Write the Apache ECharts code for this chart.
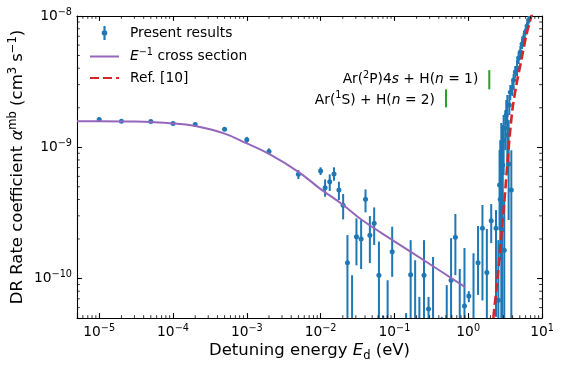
<!DOCTYPE html>
<html>
<head>
<meta charset="utf-8">
<script src="https://cdn.jsdelivr.net/npm/echarts@6/dist/echarts.min.js"></script>
<style>
html, body { margin: 0; padding: 0; background: #fff; }
#main { width: 565px; height: 372px; }
</style>
</head>
<body>
<div id="main"></div>
<script>
// measured rate coefficient: [E (eV), alpha, lower, upper]  (cm^3 s^-1)
var presentResults = [
  [1e-5, 1.63e-9, 1.59e-9, 1.67e-9],
  [2e-5, 1.58e-9, 1.54e-9, 1.62e-9],
  [5e-5, 1.57e-9, 1.53e-9, 1.61e-9],
  [1e-4, 1.52e-9, 1.48e-9, 1.56e-9],
  [2e-4, 1.49e-9, 1.45e-9, 1.53e-9],
  [5e-4, 1.37e-9, 1.33e-9, 1.41e-9],
  [1e-3, 1.14e-9, 1.08e-9, 1.20e-9],
  [2e-3, 9.3e-10, 8.8e-10, 9.8e-10],
  [5e-3, 6.23e-10, 5.73e-10, 6.7e-10],
  [1.0e-2, 6.59e-10, 6.14e-10, 7.03e-10],
  [1.15e-2, 4.91e-10, 4.2e-10, 5.69e-10],
  [1.33e-2, 5.46e-10, 4.65e-10, 6.21e-10],
  [1.52e-2, 6.25e-10, 5.56e-10, 7.03e-10],
  [1.77e-2, 4.72e-10, 3.96e-10, 5.46e-10],
  [2.02e-2, 3.62e-10, 2.82e-10, 4.4e-10],
  [2.31e-2, 1.32e-10, 4e-11, 2.14e-10],
  [2.67e-2, 4e-11, 1e-12, 1.06e-10],
  [3.06e-2, 2.08e-10, 1.26e-10, 2.87e-10],
  [3.54e-2, 2.0e-10, 1.18e-10, 2.83e-10],
  [4.06e-2, 4.01e-10, 3.19e-10, 4.77e-10],
  [4.65e-2, 2.14e-10, 1.31e-10, 2.99e-10],
  [5.32e-2, 2.63e-10, 1.8e-10, 3.48e-10],
  [6.17e-2, 1.06e-10, 2e-11, 1.91e-10],
  [7.05e-2, 2.5e-11, 1e-12, 5.2e-11],
  [8.09e-2, 4.5e-11, 1e-12, 9.7e-11],
  [9.33e-2, 1.6e-10, 1.03e-10, 2.48e-10],
  [0.144, 2.5e-11, 1e-12, 5.45e-11],
  [0.166, 1.07e-10, 2e-11, 1.96e-10],
  [0.191, 4e-11, 1e-12, 1.38e-10],
  [0.218, 3e-11, 1e-12, 7.24e-11],
  [0.252, 1.06e-10, 2e-11, 1.96e-10],
  [0.29, 5.85e-11, 4.4e-11, 7.24e-11],
  [0.334, 4e-11, 1e-12, 1.46e-10],
  [0.438, 2.5e-11, 1e-12, 5.1e-11],
  [0.512, 3.5e-11, 1e-12, 8.9e-11],
  [0.586, 9.7e-11, 2e-11, 2.03e-10],
  [0.67, 2.06e-10, 1.06e-10, 3.1e-10],
  [0.768, 4e-11, 1e-12, 1.18e-10],
  [0.89, 6.17e-11, 1e-12, 1.71e-10],
  [1.02, 7.34e-11, 6.6e-11, 8.0e-11],
  [1.18, 4e-11, 1e-12, 1.56e-10],
  [1.36, 1.32e-10, 7.5e-11, 2.51e-10],
  [1.56, 2.41e-10, 6.8e-11, 3.63e-10],
  [1.79, 1.11e-10, 1e-12, 2.38e-10],
  [2.05, 2.75e-10, 1.86e-10, 3.69e-10],
  [2.38, 2.41e-10, 5.1e-11, 3.32e-10],
  [2.56, 6.84e-11, 1e-11, 1.96e-10],
  [2.66, 5.15e-10, 2.34e-10, 9.5e-10],
  [2.72, 4.01e-10, 1.38e-10, 1.13e-9],
  [2.81, 2.88e-10, 1e-11, 1.53e-9],
  [2.87, 2.34e-10, 1e-11, 7.98e-10],
  [2.94, 7.31e-10, 3.32e-10, 1.48e-9],
  [3.02, 1.13e-9, 6.14e-10, 1.76e-9],
  [3.08, 1.64e-10, 1e-11, 3.96e-10],
  [3.18, 1.40e-9, 9.5e-10, 1.92e-9],
  [3.28, 1.76e-9, 1.48e-9, 2.29e-9],
  [3.39, 1.24e-9, 6.7e-10, 2.50e-9],
  [3.53, 7.45e-10, 2.79e-10, 1.61e-9],
  [3.61, 2.10e-9, 1.76e-9, 2.50e-9],
  [3.72, 2.63e-9, 2.29e-9, 2.98e-9],
  [3.84, 4.72e-10, 1e-11, 9.5e-10],
  [3.96, 2.83e-9, 2.46e-9, 3.25e-9],
  [4.12, 3.25e-9, 2.88e-9, 3.61e-9],
  [4.35, 3.74e-9, 3.37e-9, 4.16e-9],
  [4.59, 4.02e-9, 3.49e-9, 4.62e-9],
  [4.82, 4.79e-9, 4.31e-9, 5.32e-9],
  [5.09, 5.32e-9, 4.79e-9, 5.9e-9],
  [5.37, 6.12e-9, 5.6e-9, 6.68e-9],
  [5.64, 6.8e-9, 6.23e-9, 7.4e-9],
  [5.95, 7.55e-9, 7.05e-9, 8.1e-9],
  [6.28, 8.4e-9, 7.8e-9, 9.0e-9],
  [6.59, 9.3e-9, 8.7e-9, 1.0e-8],
  [6.95, 1.02e-8, 9.5e-9, 1.1e-8]
];

// E^-1 cross section curve
var crossSection = [
  [5e-6, 1.58e-9], [1e-5, 1.58e-9], [3e-5, 1.57e-9], [1e-4, 1.52e-9],
  [2e-4, 1.45e-9], [5e-4, 1.27e-9], [1e-3, 1.07e-9], [2e-3, 8.9e-10],
  [5e-3, 6.5e-10], [1e-2, 4.8e-10], [2e-2, 3.65e-10], [3.6e-2, 2.8e-10],
  [0.1, 1.92e-10], [0.3, 1.29e-10], [0.91, 8.6e-11]
];

// Ref. [10]
var ref10 = [
  [2.1, 4e-11], [2.19, 5e-11], [2.48, 9.66e-11], [2.85, 2.32e-10],
  [3.18, 4.7e-10], [3.49, 9.16e-10], [3.96, 1.91e-9], [4.49, 2.97e-9],
  [5.25, 4.61e-9], [6.14, 7.16e-9], [7.18, 1.0e-8], [7.6, 1.1e-8]
];

// threshold marks
var thresholdLabels = [
  '{n|Ar(}{s|2}{n|P)4}{i|s}{n| + H(}{i|n}{n| = 1)}',
  '{n|Ar(}{s|1}{n|S) + H(}{i|n}{n| = 2)}'
];
var thresholdE = [1.93, 0.50];
var thresholdTop = [3.87e-9, 2.76e-9];
var thresholdBottom = [2.76e-9, 2.01e-9];

var FONT = 'DejaVu Sans';
var X_MIN = 5e-6, X_MAX = 10, Y_MIN = 5e-11, Y_MAX = 1e-8;

function powLabel(v) {
  var e = Math.log10(v);
  var r = Math.round(e);
  if (Math.abs(e - r) > 1e-6) return '';
  return '{b|10}{s|' + (r < 0 ? '\u2212' + (-r) : r) + '}';
}
var tickRich = {
  b: { fontFamily: FONT, fontSize: 13.8, lineHeight: 18, color: '#000' },
  s: { fontFamily: FONT, fontSize: 9.7, lineHeight: 8, verticalAlign: 'top', color: '#000' }
};

// minor tick positions (2..9 per decade)
var minorX = [], minorY = [];
for (var d = -6; d <= 0; d++) {
  for (var m = 2; m <= 9; m++) {
    var v = m * Math.pow(10, d);
    if (v > X_MIN && v < X_MAX) minorX.push([v, 1e-9]);
  }
}
for (var d2 = -11; d2 <= -9; d2++) {
  for (var m2 = 2; m2 <= 9; m2++) {
    var w = m2 * Math.pow(10, d2);
    if (w > Y_MIN && w < Y_MAX) minorY.push([1, w]);
  }
}

function renderErr(params, api) {
  var x = api.value(0);
  var hi = api.coord([x, api.value(3)]);
  var lo = api.coord([x, api.value(2)]);
  var c = api.coord([x, api.value(1)]);
  return {
    type: 'group',
    children: [
      { type: 'line', shape: { x1: hi[0], y1: hi[1], x2: lo[0], y2: lo[1] },
        style: { stroke: '#1f77b4', lineWidth: 2 } },
      { type: 'circle', shape: { cx: c[0], cy: c[1], r: 2.5 }, style: { fill: '#1f77b4' } }
    ]
  };
}

function renderMinorX(params, api) {
  var cs = params.coordSys;
  var p = api.coord([api.value(0), api.value(1)]);
  var yb = cs.y + cs.height, yt = cs.y;
  return {
    type: 'group',
    children: [
      { type: 'line', shape: { x1: p[0], y1: yb, x2: p[0], y2: yb - 2.8 }, style: { stroke: '#000', lineWidth: 0.8 } },
      { type: 'line', shape: { x1: p[0], y1: yt, x2: p[0], y2: yt + 2.8 }, style: { stroke: '#000', lineWidth: 0.8 } }
    ]
  };
}

function renderMinorY(params, api) {
  var cs = params.coordSys;
  var p = api.coord([api.value(0), api.value(1)]);
  var xl = cs.x, xr = cs.x + cs.width;
  return {
    type: 'group',
    children: [
      { type: 'line', shape: { x1: xl, y1: p[1], x2: xl + 2.8, y2: p[1] }, style: { stroke: '#000', lineWidth: 0.8 } },
      { type: 'line', shape: { x1: xr, y1: p[1], x2: xr - 2.8, y2: p[1] }, style: { stroke: '#000', lineWidth: 0.8 } }
    ]
  };
}

function logAxis(pos, min, max, showLabel, extra) {
  var ax = {
    type: 'log', logBase: 10, position: pos, min: min, max: max,
    axisLine: { show: true, onZero: false, lineStyle: { color: '#000', width: 1.1 } },
    axisTick: { show: true, inside: true, length: 4.9, lineStyle: { color: '#000', width: 1.1 } },
    axisLabel: { show: showLabel, margin: 5, formatter: powLabel, rich: tickRich },
    splitLine: { show: false },
    minorTick: { show: false }
  };
  for (var k in extra) ax[k] = extra[k];
  return ax;
}

var chart = echarts.init(document.getElementById('main'));

var series = [
  {
    name: 'E-1 cross section', type: 'line', data: crossSection, smooth: 0.4,
    symbol: 'none', lineStyle: { color: '#9467bd', width: 2 }, itemStyle: { color: '#9467bd' }, z: 3
  },
  {
    name: 'Ref. [10]', type: 'line', data: ref10, smooth: 0.3, symbol: 'none',
    lineStyle: { color: '#d62728', width: 2.6, type: [9, 4] }, itemStyle: { color: '#d62728' }, z: 4
  },
  {
    name: 'Present results', type: 'custom', renderItem: renderErr, data: presentResults,
    encode: { x: 0, y: 1 }, clip: true, itemStyle: { color: '#1f77b4' }, z: 2
  },
  { name: 'minorX', type: 'custom', renderItem: renderMinorX, data: minorX, encode: { x: 0, y: 1 }, silent: true, z: 5 },
  { name: 'minorY', type: 'custom', renderItem: renderMinorY, data: minorY, encode: { x: 0, y: 1 }, silent: true, z: 5 }
];
thresholdE.forEach(function (e, i) {
  series.push({
    name: 'threshold' + i, type: 'line', symbol: 'none',
    data: [[e, thresholdTop[i]], [e, thresholdBottom[i]]],
    lineStyle: { color: '#2ca02c', width: 2 }, z: 3
  });
});

chart.setOption({
  animation: false,
  backgroundColor: '#fff',
  grid: { left: 77, right: 23, top: 16, bottom: 54, containLabel: false, outerBoundsMode: 'none' },
  xAxis: [
    logAxis('bottom', X_MIN, X_MAX, true, {
      name: 'Detuning energy {i|E}{sub|d} (eV)', nameLocation: 'middle', nameGap: 22,
      nameMoveOverlap: false,
      nameTextStyle: {
        fontFamily: FONT, fontSize: 16.5, color: '#000', lineHeight: 22,
        rich: {
          i: { fontFamily: FONT, fontSize: 16.5, fontStyle: 'italic', lineHeight: 22, color: '#000' },
          sub: { fontFamily: FONT, fontSize: 11.5, lineHeight: 14, verticalAlign: 'bottom', color: '#000' }
        }
      }
    }),
    logAxis('top', X_MIN, X_MAX, false, {})
  ],
  yAxis: [
    logAxis('left', Y_MIN, Y_MAX, true, {
      name: 'DR Rate coefficient {i|\u03b1}{sup|mb} (cm{sup|3} s{sup|\u22121})',
      nameLocation: 'middle', nameRotate: 90, nameGap: 48,
      nameMoveOverlap: false,
      nameTextStyle: {
        fontFamily: FONT, fontSize: 16.5, color: '#000', lineHeight: 22,
        rich: {
          i: { fontFamily: FONT, fontSize: 16.5, fontStyle: 'italic', lineHeight: 22, color: '#000' },
          sup: { fontFamily: FONT, fontSize: 11.5, lineHeight: 10, verticalAlign: 'top', color: '#000' }
        }
      }
    }),
    logAxis('right', Y_MIN, Y_MAX, false, {})
  ],
  legend: {
    orient: 'vertical', left: 89, top: 26, padding: 0,
    itemWidth: 29, itemHeight: 14, itemGap: 7.5,
    selectedMode: false,
    data: [
      { name: 'Present results',
        icon: 'path://M-1,-6.5L1,-6.5L1,6.5L-1,6.5Z M-2.6,0A2.6,2.6 0 1 1 2.6,0A2.6,2.6 0 1 1 -2.6,0Z' },
      { name: 'E-1 cross section', itemStyle: { opacity: 0 } },
      { name: 'Ref. [10]', itemStyle: { opacity: 0 } }
    ],
    formatter: function (name) {
      if (name === 'E-1 cross section') return '{i|E}{s|\u22121}{t| cross section}';
      return '{t|' + name + '}';
    },
    textStyle: {
      fontFamily: FONT, fontSize: 13.8, color: '#000', padding: [0, 0, 0, 6],
      rich: {
        t: { fontFamily: FONT, fontSize: 13.8, lineHeight: 18, color: '#000' },
        i: { fontFamily: FONT, fontSize: 13.8, fontStyle: 'italic', lineHeight: 18, color: '#000' },
        s: { fontFamily: FONT, fontSize: 9.7, lineHeight: 9, verticalAlign: 'top', color: '#000' }
      }
    }
  },
  series: series
});

// threshold labels next to the green marks
var annRich = {
  n: { fontFamily: FONT, fontSize: 13.8, lineHeight: 18, color: '#000' },
  i: { fontFamily: FONT, fontSize: 13.8, fontStyle: 'italic', lineHeight: 18, color: '#000' },
  s: { fontFamily: FONT, fontSize: 9.7, lineHeight: 9, verticalAlign: 'top', color: '#000' }
};
var texts = thresholdE.map(function (e, i) {
  var mid = Math.sqrt(thresholdTop[i] * thresholdBottom[i]);
  var p = chart.convertToPixel({ xAxisIndex: 0, yAxisIndex: 0 }, [e, mid]);
  return {
    type: 'text', x: p[0] - 11, y: p[1] + (i === 1 ? 1.5 : 0),
    style: { text: thresholdLabels[i], rich: annRich, align: 'right', verticalAlign: 'middle' }
  };
});
chart.setOption({ graphic: texts });
</script>
</body>
</html>
